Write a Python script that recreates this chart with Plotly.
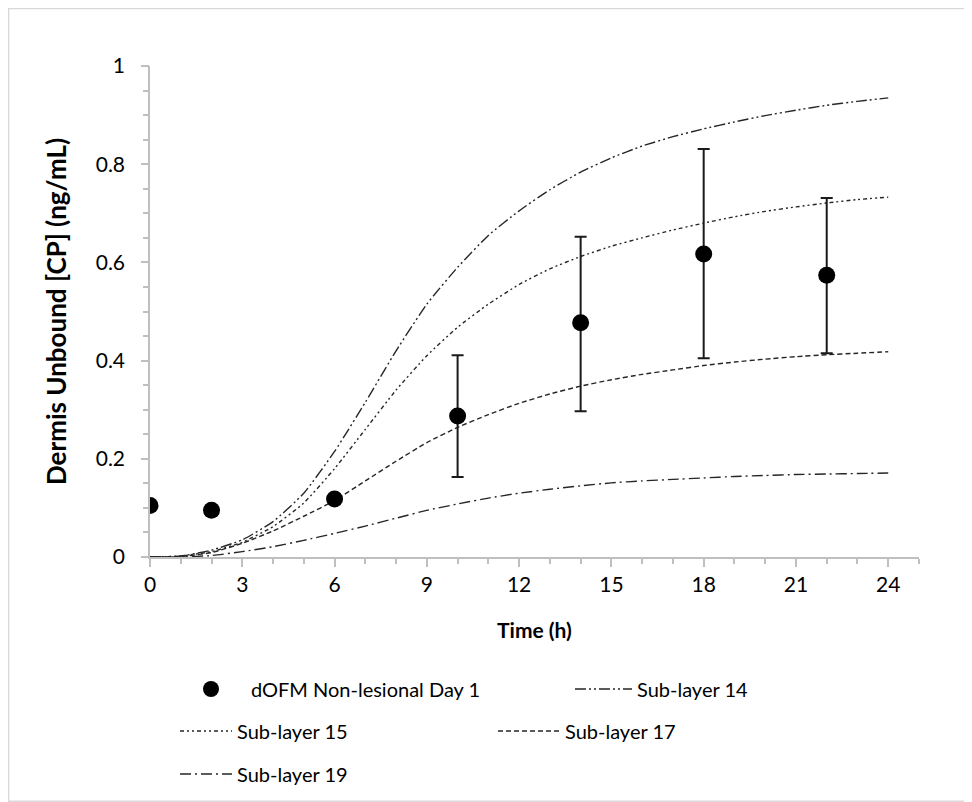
import plotly.graph_objects as go

# ---------------- data ----------------
obs_time = [0, 2, 6, 10, 14, 18, 22]
obs_mean = [0.105, 0.095, 0.118, 0.287, 0.477, 0.617, 0.574]
obs_err_plus = [0, 0, 0, 0.124, 0.175, 0.214, 0.157]
obs_err_minus = [0, 0, 0, 0.124, 0.180, 0.212, 0.159]

sim_time = list(range(0, 25))
sub14 = [0, 0.002, 0.014, 0.035, 0.072, 0.13, 0.215, 0.315, 0.42, 0.515, 0.59, 0.655,
         0.705, 0.748, 0.784, 0.813, 0.837, 0.856, 0.872, 0.886, 0.899, 0.91, 0.92, 0.928, 0.935]
sub15 = [0, 0.002, 0.011, 0.03, 0.062, 0.11, 0.18, 0.26, 0.34, 0.41, 0.468, 0.515,
         0.555, 0.587, 0.612, 0.633, 0.65, 0.666, 0.68, 0.693, 0.704, 0.713, 0.721, 0.728, 0.733]
sub17 = [0, 0.001, 0.009, 0.028, 0.053, 0.083, 0.115, 0.155, 0.195, 0.233, 0.264, 0.29,
         0.313, 0.332, 0.348, 0.361, 0.372, 0.381, 0.39, 0.397, 0.403, 0.408, 0.412, 0.415, 0.418]
sub19 = [0, 0.0, 0.003, 0.011, 0.021, 0.034, 0.048, 0.063, 0.079, 0.095, 0.108, 0.12,
         0.13, 0.138, 0.145, 0.151, 0.155, 0.158, 0.161, 0.164, 0.166, 0.168, 0.169, 0.17, 0.171]

series_names = ["Sub-layer 14", "Sub-layer 15", "Sub-layer 17", "Sub-layer 19"]
obs_name = "dOFM Non-lesional Day 1"
x_title = "Time (h)"
y_title = "Dermis Unbound [CP] (ng/mL)"

# ---------------- layout constants ----------------
# the page adds an 8px body margin, so the figure is 8px smaller and
# reference pixel coordinates are shifted by 8
OFF = 8
W, H = 964, 794
L, R, T, B = 142, 53, 58, 245
PW, PH = W - L - R, H - T - B
FONT = "Lato"
LINE_COLOR = "#262626"
AXIS_COLOR = "#bfbfbf"
Y_RANGE = [0, 1]


def px_x(p):
    return (p - OFF - L) / PW


def px_y(p):
    return (H - B - (p - OFF)) / PH


fig = go.Figure()

dashes = ["11px,3px,2px,3px,2px,3px", "4px,3px,2px,3px,2px,3px", "5px,3px", "11px,4px,2px,4px"]
curves = [sub14, sub15, sub17, sub19]
legends = ["legend2", "legend3", "legend4", "legend5"]
# the last curve is drawn on the overlay axis y2 (identical range) so that axis renders its tick marks
yaxes = ["y", "y", "y", "y2"]
for name, ys, dash, lg, ya in zip(series_names, curves, dashes, legends, yaxes):
    fig.add_trace(go.Scatter(
        x=sim_time, y=ys, mode="lines", name=name, legend=lg, yaxis=ya,
        line=dict(color=LINE_COLOR, width=1.4, dash=dash, shape="spline", smoothing=0.5),
    ))

fig.add_trace(go.Scatter(
    x=obs_time, y=obs_mean, mode="markers", name=obs_name, legend="legend",
    marker=dict(color="black", size=17, symbol="circle"),
    error_y=dict(type="data", array=obs_err_plus, arrayminus=obs_err_minus,
                 color="#1a1a1a", thickness=2, width=6, visible=True),
))

tick_font = dict(family=FONT, size=21, color="black")

fig.update_xaxes(
    range=[0, 25], tick0=0, dtick=3,
    showgrid=False, zeroline=False, showline=True, linecolor=AXIS_COLOR, linewidth=1.5,
    ticks="outside", tickcolor=AXIS_COLOR, ticklen=8, tickwidth=1.5, tickfont=tick_font,
    minor=dict(dtick=1, tick0=0, ticks="outside", ticklen=5, tickcolor=AXIS_COLOR, tickwidth=1.5, showgrid=False),
    title=dict(text="<b>" + x_title + "</b>", font=dict(family=FONT, size=21, color="black"), standoff=28),
)

fig.update_layout(
    # primary y axis: labels pushed away from the axis by a long transparent tick
    yaxis=dict(
        range=Y_RANGE, tick0=0, dtick=0.2,
        showgrid=False, zeroline=False, showline=True, linecolor=AXIS_COLOR, linewidth=1.5,
        ticks="outside", tickcolor="rgba(0,0,0,0)", ticklen=19, tickwidth=1.5, tickfont=tick_font,
        minor=dict(dtick=0.05, tick0=0, ticks="outside", ticklen=5, tickcolor=AXIS_COLOR,
                   tickwidth=1.5, showgrid=False),
        title=dict(text="<b>" + y_title + "</b>", font=dict(family=FONT, size=26, color="black"), standoff=22),
    ),
    # overlay axis drawing the visible major tick marks
    yaxis2=dict(
        overlaying="y", side="left", range=Y_RANGE, tick0=0, dtick=0.2,
        showgrid=False, zeroline=False, showline=False, showticklabels=False,
        ticks="outside", tickcolor=AXIS_COLOR, ticklen=8, tickwidth=1.5,
    ),
)

leg_font = dict(family=FONT, size=20, color="black")


def leg(xp, yp, iw):
    return dict(x=px_x(xp), y=px_y(yp), xanchor="left", yanchor="middle",
                font=leg_font, bgcolor="rgba(0,0,0,0)", borderwidth=0, itemwidth=iw)


fig.update_layout(
    width=W, height=H,
    margin=dict(l=L, r=R, t=T, b=B, autoexpand=False),
    paper_bgcolor="white", plot_bgcolor="white",
    showlegend=True,
    legend=leg(171, 689, 70),
    legend2=leg(570, 689, 57),
    legend3=leg(175, 731, 52),
    legend4=leg(493, 731, 62),
    legend5=leg(175, 774, 52),
    shapes=[dict(type="rect", xref="paper", yref="paper",
                 x0=-L / PW + 0.6 / PW, x1=1 + (R - 0.8) / PW,
                 y0=-B / PH + 0.8 / PH, y1=1 + (T - 0.6) / PH,
                 line=dict(color="#d9d9d9", width=1.5), fillcolor="rgba(0,0,0,0)", layer="below")],
)

fig.write_html("out.html")
